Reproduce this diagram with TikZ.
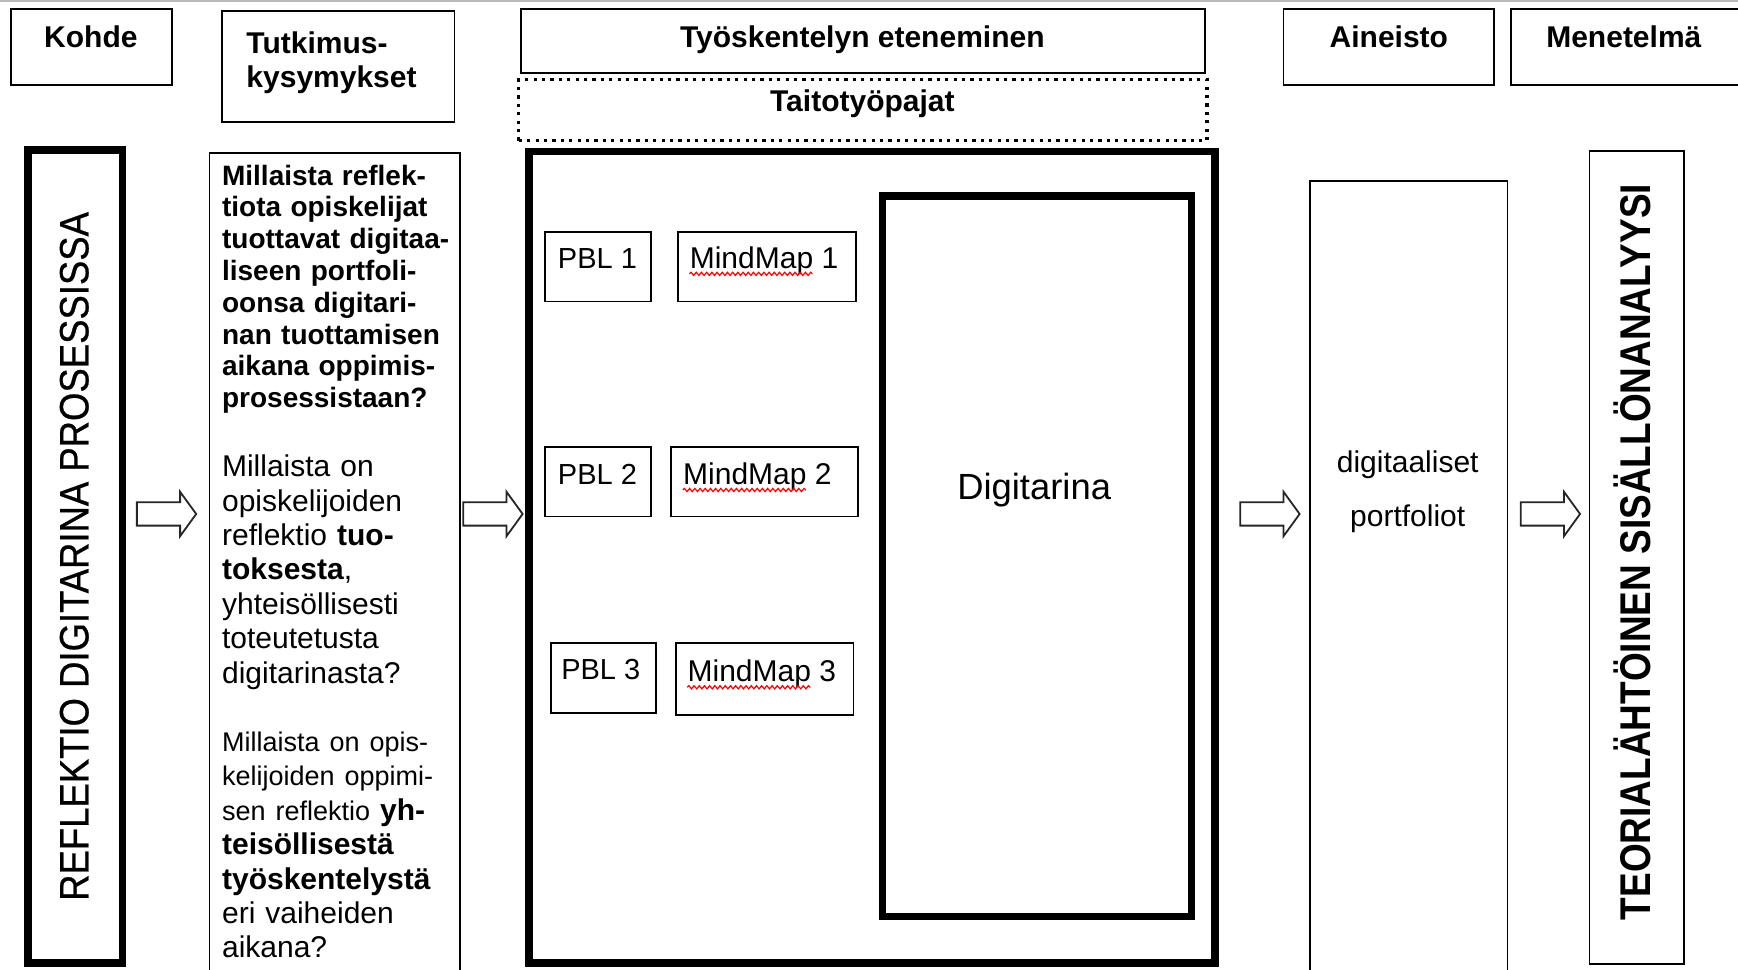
\documentclass[tikz,border=0pt]{standalone}
\usepackage{fontspec}
\setmainfont{Liberation Sans}
\newfontfamily\reflfont{Liberation Sans}[FakeStretch=0.89,FakeBold=0.6]
\newfontfamily\teofont{Liberation Sans}[FakeStretch=0.86]
\usetikzlibrary{fit,decorations.pathmorphing}
\begin{document}
\begin{tikzpicture}[x=0.5542pt,y=-0.5542pt,
  thinbox/.style={draw, line width=0.9pt, inner sep=0pt},
  thickbox/.style={draw, line width=3.8pt, inner sep=0pt},
  dotbox/.style={draw, line width=1.6pt, dash pattern=on 1.6pt off 2.6pt, inner sep=0pt},
  hdr/.style={font=\fontsize{15}{17.2}\selectfont\bfseries, inner sep=0pt, anchor=base},
  small/.style={font=\fontsize{14.5}{17}\selectfont, inner sep=0pt, anchor=base west},
  hollow/.style={draw=black!85, line width=0.9pt, line join=miter, fill=white},
  squig/.style={draw=red, line width=0.6pt, decorate,
    decoration={snake, segment length=2.6pt, amplitude=0.8pt}}]
\useasboundingbox (0,0) rectangle (1568,874.3);
\clip (0,0) rectangle (1568,874.3);
\fill[white] (0,0) rectangle (1568,874.3);
\draw[gray!55, line width=1pt] (0,1) -- (1568,1);

% header boxes
\node[thinbox, fit={(10,8) (155,77)}] (hk) {};
\node[thinbox, fit={(200,10) (410,110)}] (ht) {};
\node[thinbox, fit={(470,8) (1087,66)}] (hw) {};
\node[dotbox, fit={(468,72) (1089,127)}] (htaito) {};
\node[thinbox, fit={(1158,8) (1348,77)}] (ha) {};
\node[thinbox, fit={(1363,8) (1590,77)}] (hm) {};

\node[hdr] (tk) at (82,43) {Kohde};
\node[hdr, anchor=base west, text width=110pt, align=left] (tt) at (222,48) {Tutkimus-\\kysymykset};
\node[hdr] (tw) at (778,43) {Työskentelyn eteneminen};
\node[hdr] (ttaito) at (778,101) {Taitotyöpajat};
\node[hdr] (ta) at (1253,43) {Aineisto};
\node[hdr] (tm) at (1465,43) {Menetelmä};

% lower columns
\node[thickbox, fit={(25,135.5) (110.6,869)}] (bk) {};
\node[thinbox, fit={(189,138) (415,900)}] (bt) {};
\node[thickbox, fit={(477.5,136.5) (1096,869)}] (bw) {};
\node[thickbox, fit={(796,177) (1075,827)}] (bd) {};
\node[thinbox, fit={(1182,163) (1360,900)}] (ba) {};
\node[thinbox, fit={(1434,136) (1519,870)}] (bm) {};

\node[rotate=90, inner sep=0pt, font=\reflfont\fontsize{20.5}{24}\selectfont] (trefl) at (67,502) {REFLEKTIO DIGITARINA PROSESSISSA};
\node[rotate=90, inner sep=0pt, font=\teofont\bfseries\fontsize{21.5}{24}\selectfont] (tteo) at (1473,498) {TEORIALÄHTÖINEN SISÄLLÖNANALYYSI};

% research questions
\node[anchor=base west, inner sep=0pt, text width=122pt, align=left,
  font=\fontsize{14}{15.9}\selectfont\bfseries] (q1) at (200,167)
  {Millaista reflek-\\tiota opiskelijat\\tuottavat digitaa-\\liseen portfoli-\\oonsa digitari-\\nan tuottamisen\\aikana oppimis-\\prosessistaan?};
\node[anchor=base west, inner sep=0pt, text width=122pt, align=left,
  font=\fontsize{15}{17.2}\selectfont] (q2) at (200,430)
  {Millaista on\\opiskelijoiden\\reflektio \textbf{tuo-}\\\textbf{toksesta},\\yhteisöllisesti\\toteutetusta\\digitarinasta?};
\node[anchor=base west, inner sep=0pt, text width=122pt, align=left,
  font=\fontsize{15}{17.2}\selectfont] (q3) at (200,678)
  {{\fontsize{13.5}{17.2}\selectfont Millaista on opis-\\kelijoiden oppimi-\\sen reflektio} \textbf{yh-}\\\textbf{teisöllisestä}\\\textbf{työskentelystä}\\eri vaiheiden\\aikana?};

% workshop boxes
\node[thinbox, fit={(492,209) (587,272)}] (p1) {};
\node[thinbox, fit={(612,209) (772,272)}] (m1) {};
\node[thinbox, fit={(492,403) (587,466)}] (p2) {};
\node[thinbox, fit={(605,403) (774,466)}] (m2) {};
\node[thinbox, fit={(497,580) (592,643)}] (p3) {};
\node[thinbox, fit={(610,580) (770,645)}] (m3) {};

\node[small] (tp1) at (503,242) {PBL 1};
\node[small, font=\fontsize{15}{17}\selectfont] (tm1) at (622,242) {MindMap 1};
\node[small] (tp2) at (503,437) {PBL 2};
\node[small, font=\fontsize{15}{17}\selectfont] (tm2) at (616,437) {MindMap 2};
\node[small] (tp3) at (506,613) {PBL 3};
\node[small, font=\fontsize{15}{17}\selectfont] (tm3) at (620,615) {MindMap 3};
\draw[squig] ([yshift=-2.8pt]tm1.base west) -- ++(111,0);
\draw[squig] ([yshift=-2.8pt]tm2.base west) -- ++(111,0);
\draw[squig] ([yshift=-2.8pt]tm3.base west) -- ++(111,0);

\node[inner sep=0pt, anchor=base, font=\fontsize{18.2}{20}\selectfont] (tdig) at (933,451) {Digitarina};
\node[inner sep=0pt, anchor=base, font=\fontsize{15}{17}\selectfont] (tda) at (1270,426) {digitaaliset};
\node[inner sep=0pt, anchor=base, font=\fontsize{15}{17}\selectfont] (tdb) at (1270,475) {portfoliot};

% hollow block arrows between the columns
\coordinate (a1) at (123.5,463.7);
\coordinate (a2) at (418,463.7);
\coordinate (a3) at (1119,463.7);
\coordinate (a4) at (1372,463.7);
\foreach \a in {a1,a2,a3,a4}
  \draw[hollow] (\a) ++(0,-10.5) -- ++(39,0) -- ++(0,-9.5) -- ++(14.5,20)
    -- ++(-14.5,20) -- ++(0,-9.5) -- ++(-39,0) -- cycle;
\end{tikzpicture}
\end{document}
